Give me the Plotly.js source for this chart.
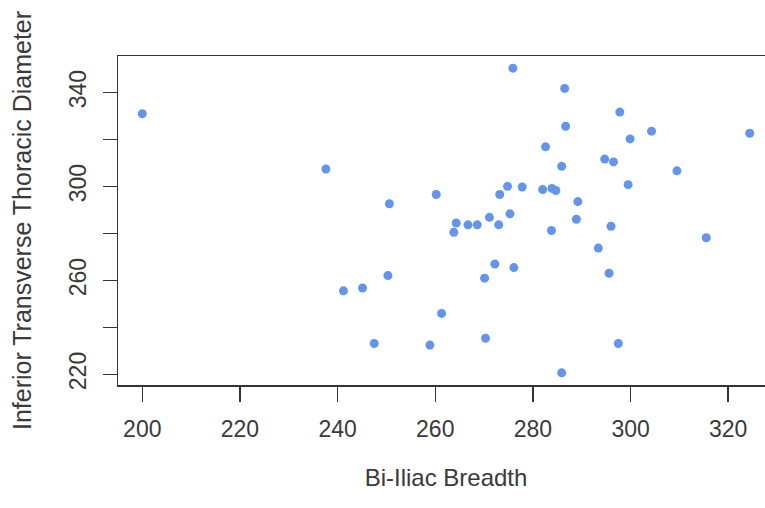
<!DOCTYPE html>
<html>
<head>
<meta charset="utf-8">
<script src="https://cdn.plot.ly/plotly-3.0.1.min.js"></script>
<style>
html, body { margin: 0; padding: 0; overflow: hidden; background: #fff; width: 765px; height: 508px; }
#chart { width: 790px; height: 508px; }
</style>
</head>
<body>
<div id="chart"></div>
<script>
// Bi-Iliac Breadth (x) vs Inferior Transverse Thoracic Diameter (y)
const biIliacBreadth = [
  200.0, 237.6, 250.6, 241.2, 245.1, 250.3, 247.5, 258.9, 275.9, 286.5,
  297.8, 286.7, 304.3, 324.4, 299.9, 282.6, 285.9, 294.7, 296.5, 309.5,
  260.2, 273.2, 274.8, 277.8, 275.3, 264.3, 263.8, 266.7, 268.6, 271.1,
  273.0, 282.0, 283.9, 284.7, 299.5, 289.2, 288.9, 283.8, 296.0, 315.5,
  293.4, 272.2, 276.1, 270.1, 295.6, 261.3, 270.3, 297.5, 285.9
];
const thoracicDiameter = [
  331.0, 307.5, 292.7, 255.6, 256.8, 262.1, 233.2, 232.5, 350.4, 341.8,
  331.7, 325.7, 323.6, 322.7, 320.3, 316.9, 308.6, 311.7, 310.5, 306.7,
  296.6, 296.6, 300.1, 299.8, 288.4, 284.5, 280.5, 283.7, 283.7, 286.9,
  283.7, 298.7, 299.2, 298.3, 300.8, 293.6, 286.1, 281.3, 283.1, 278.2,
  273.8, 267.0, 265.5, 261.0, 263.1, 246.0, 235.4, 233.2, 220.7
];
const xTickVals = [200, 220, 240, 260, 280, 300, 320];
const xTickText = ["200", "220", "240", "260", "280", "300", "320"];
const yTickVals = [220, 240, 260, 280, 300, 320, 340];
const yTickText = ["220", "", "260", "", "300", "", "340"];
const xTitle = "Bi-Iliac Breadth";
const yTitle = "Inferior Transverse Thoracic Diameter";

// R-style axis range: data range extended by 4% on each side
function rRange(arr) {
  const lo = Math.min(...arr), hi = Math.max(...arr);
  const pad = 0.04 * (hi - lo);
  return [lo - pad, hi + pad];
}

const textColor = "#3a3a3a";
const lineColor = "#333333";
const fontFamily = "'Liberation Sans', Arial, sans-serif";

const trace = {
  type: "scatter",
  mode: "markers",
  x: biIliacBreadth,
  y: thoracicDiameter,
  marker: { color: "#6495ED", size: 9, line: { width: 0 } },
  hoverinfo: "x+y"
};

const layout = {
  width: 790,
  height: 508,
  margin: { l: 118, r: 16, t: 56, b: 123 },
  paper_bgcolor: "#ffffff",
  plot_bgcolor: "#ffffff",
  showlegend: false,
  font: { family: fontFamily, size: 23, color: textColor },
  xaxis: {
    range: rRange(biIliacBreadth),
    tickmode: "array",
    tickvals: xTickVals,
    ticktext: xTickText,
    ticks: "outside",
    ticklen: 15,
    tickwidth: 1.5,
    tickcolor: lineColor,
    showline: true,
    linecolor: lineColor,
    linewidth: 1.5,
    mirror: true,
    showgrid: false,
    zeroline: false,
    ticklabelstandoff: 8,
    tickfont: { family: fontFamily, size: 23, color: textColor },
    title: { text: xTitle, font: { family: fontFamily, size: 24, color: textColor }, standoff: 28 },
    automargin: false
  },
  yaxis: {
    range: rRange(thoracicDiameter),
    tickmode: "array",
    tickvals: yTickVals,
    ticktext: yTickText,
    tickangle: -90,
    ticks: "outside",
    ticklen: 14,
    tickwidth: 1.5,
    tickcolor: lineColor,
    showline: true,
    linecolor: lineColor,
    linewidth: 1.5,
    mirror: true,
    showgrid: false,
    zeroline: false,
    ticklabelstandoff: 7,
    tickfont: { family: fontFamily, size: 23, color: textColor },
    title: { text: yTitle, font: { family: fontFamily, size: 25, color: textColor }, standoff: 26 },
    automargin: false
  }
};

Plotly.newPlot("chart", [trace], layout, { displayModeBar: false, staticPlot: true });
</script>
</body>
</html>
